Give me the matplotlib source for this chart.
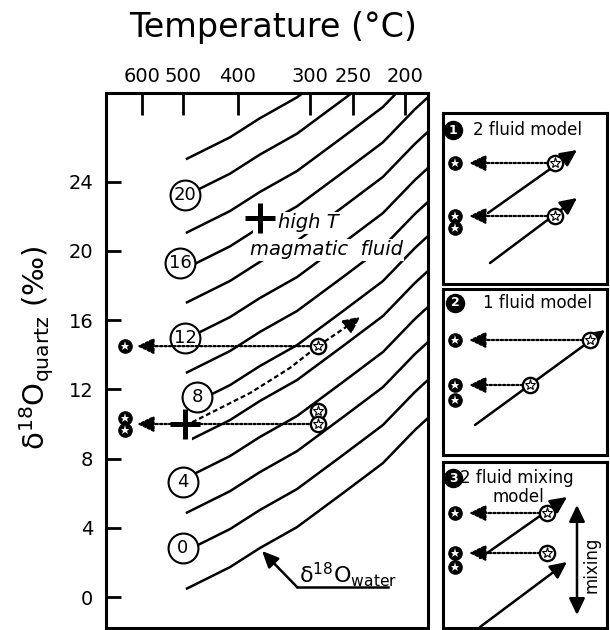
import matplotlib
matplotlib.use('Agg')
import matplotlib.pyplot as plt
import numpy as np

# ---------------- data ----------------
temp_labels = ['600', '500', '400', '300', '250', '200']
temp_pos = [1.145, 1.296, 1.499, 1.764, 1.923, 2.114]      # position on 1000/T-like axis
q_ticks = [0, 4, 8, 12, 16, 20, 24]

water_values = [-2, 0, 2, 4, 6, 8, 10, 12, 14, 16, 18, 20, 22]
curve_start_q = [0.46, 2.66, 4.85, 6.88, 8.96, 10.98, 12.95, 14.91, 17.0, 19.0, 21.04, 23.2, 25.3]
profile_x = [1.307, 1.470, 1.580, 1.717, 1.887, 2.034, 2.152, 2.200, 2.250]
profile_rise = [0.0, 1.27, 2.37, 3.58, 5.55, 7.28, 9.19, 9.88, 10.6]

label_text = ['20', '16', '12', '8', '4', '0']
label_x = [1.304, 1.285, 1.304, 1.348, 1.296, 1.296]
label_y = [23.24, 19.31, 14.97, 11.56, 6.65, 2.83]

sample_left_x = 1.082
sample_left_y = [14.5, 10.35, 9.65]
sample_right_x = 1.794
sample_right_y = [14.5, 10.75, 10.0]
arrow_tip_x = 1.127
arrow_y = [14.5, 10.0]

path_x = [1.330, 1.544, 1.691, 1.794, 1.920]
path_y = [10.10, 11.79, 13.24, 14.5, 15.84]
path_tip = (1.950, 16.20)

cross_x = [1.304, 1.580]
cross_y = [10.0, 21.9]

water_line_x = [2.053, 1.717]
water_line_y = [0.58, 0.58]
water_arrow_tip = (1.588, 2.66)

# inset schematic geometry (pixels inside each box)
box_rects = [(443, 113, 164, 171), (443, 289, 164, 166), (443, 462, 164, 166)]
box_num = [(10, 17), (12, 14), (10, 16)]
box_title = ['2 fluid model', '1 fluid model', '2 fluid mixing']
box_title_x = [30, 40, 17]
box_left_stars = [[(12, 50), (12, 103), (12, 115)],
                  [(12, 51), (12, 96), (12, 111)],
                  [(12, 51), (12, 91), (12, 105)]]
box_open_stars = [[(112, 50), (112, 103)],
                  [(147, 51), (87, 96)],
                  [(104, 51), (104, 91)]]
box_dotted = [[(104, 50, 26, 50), (104, 103, 26, 103)],
              [(140, 51, 26, 51), (80, 96, 26, 96)],
              [(97, 51, 26, 51), (97, 91, 26, 91)]]
box_solid = [[(45, 100, 134, 37), (47, 150, 134, 85)],
             [(32, 136, 162, 41)],
             [(37, 96, 124, 35), (37, 165, 124, 100)]]

FW, FH = 610, 630
fig = plt.figure(figsize=(6.1, 6.3), dpi=100)

# ---------------- main axes ----------------
ax = fig.add_axes([106 / FW, 1 - 628 / FH, 322 / FW, 535 / FH])
ax.set_xlim(1.0122, 2.2004)
ax.set_ylim(-1.79, 29.13)
for s in ax.spines.values():
    s.set_linewidth(2.2)

ax.xaxis.tick_top()
ax.set_xticks(temp_pos, temp_labels)
ax.tick_params(axis='x', direction='in', length=16, width=2, labelsize=14, pad=5,
               top=True, bottom=False)
ax.set_yticks(q_ticks)
ax.tick_params(axis='y', direction='in', length=11, width=2, labelsize=14, pad=9,
               left=True, right=False)

rise = np.array(profile_rise)
for w, s in zip(water_values, curve_start_q):
    ax.plot(profile_x, s + rise, color='black', lw=1.8, zorder=2, solid_capstyle='butt')

# text over curves
bb = dict(fc='white', ec='none', pad=1.0)
ax.text(1.647, 21.62, 'high T', fontsize=14, style='italic', ha='left', va='center',
        bbox=bb, zorder=3)
ax.text(1.543, 20.06, 'magmatic  fluid', fontsize=14, style='italic', ha='left',
        va='center', bbox=bb, zorder=3)

# crosses
ax.plot(cross_x, cross_y, '+', ms=27, mew=10, color='white', zorder=3)
ax.plot(cross_x, cross_y, '+', ms=21, mew=3.6, color='black', zorder=6)

# water labels
ax.plot(label_x, label_y, 'o', ms=21.5, mfc='white', mec='black', mew=1.5, zorder=4)
for t, x, y in zip(label_text, label_x, label_y):
    ax.text(x, y, t, fontsize=13, ha='center', va='center', zorder=5)

# arrows and samples
head = '-|>,head_length=0.5,head_width=0.24'
dot = (0, (1, 1))
for y in arrow_y:
    ax.annotate('', xy=(arrow_tip_x, y), xytext=(sample_right_x, y),
                arrowprops=dict(arrowstyle=head, lw=1.6, linestyle=dot, color='black',
                                shrinkA=0, shrinkB=0, mutation_scale=20), zorder=4)
ax.plot(path_x, path_y, color='black', lw=1.6, linestyle=(0, (2.2, 1.3)), zorder=4)
ax.annotate('', xy=path_tip, xytext=(path_x[-1], path_y[-1]),
            arrowprops=dict(arrowstyle=head, lw=1.6, linestyle=(0, (2.2, 1.3)), color='black',
                            shrinkA=0, shrinkB=0, mutation_scale=20), zorder=4)


def filled_star(a, xs, ys):
    a.plot(xs, ys, 'o', ms=9.5, color='black', zorder=7, linestyle='none')
    a.plot(xs, ys, '*', ms=6.5, color='white', zorder=8, linestyle='none', mew=0)


def open_star(a, xs, ys):
    a.plot(xs, ys, 'o', ms=11, mfc='white', mec='black', mew=1.7, zorder=7, linestyle='none')
    a.plot(xs, ys, '*', ms=8, mfc='white', mec='black', mew=0.8, zorder=8, linestyle='none')


filled_star(ax, [sample_left_x] * len(sample_left_y), sample_left_y)
open_star(ax, [sample_right_x] * len(sample_right_y), sample_right_y)

# delta18O water annotation
ax.plot(water_line_x, water_line_y, color='black', lw=1.8, zorder=4)
ax.annotate('', xy=water_arrow_tip, xytext=(water_line_x[1], water_line_y[1]),
            arrowprops=dict(arrowstyle='-|>,head_length=0.55,head_width=0.25', lw=1.8,
                            color='black', shrinkA=0, shrinkB=0, mutation_scale=18), zorder=4)
ax.text(1.725, 0.82, 'δ$^{18}$O$_{\\mathrm{water}}$', fontsize=16, ha='left', va='baseline',
        zorder=5)

# titles
fig.text(273 / FW, 1 - 28 / FH, 'Temperature (°C)', fontsize=24, ha='center', va='center')
fig.text(37 / FW, 1 - 348 / FH, 'δ$^{18}$O$_{\\mathrm{quartz}}$ (‰)', fontsize=21,
         rotation=90, ha='center', va='center')

# ---------------- insets ----------------
for i, (x0, y0, w, h) in enumerate(box_rects):
    a = fig.add_axes([x0 / FW, 1 - (y0 + h) / FH, w / FW, h / FH])
    a.set_xlim(0, w)
    a.set_ylim(h, 0)
    a.set_xticks([])
    a.set_yticks([])
    for s in a.spines.values():
        s.set_linewidth(2.2)
    nx, ny = box_num[i]
    a.plot(nx, ny, 'o', ms=13, color='black')
    a.text(nx, ny, str(i + 1), color='white', fontsize=9, fontweight='bold',
           ha='center', va='center')
    a.text(box_title_x[i], ny, box_title[i], fontsize=12, ha='left', va='center')
    for (xa, ya, xb, yb) in box_dotted[i]:
        a.annotate('', xy=(xb, yb), xytext=(xa, ya),
                   arrowprops=dict(arrowstyle=head, lw=1.6, linestyle=dot, color='black',
                                   shrinkA=0, shrinkB=0, mutation_scale=20), zorder=4)
    for (xa, ya, xb, yb) in box_solid[i]:
        a.annotate('', xy=(xb, yb), xytext=(xa, ya),
                   arrowprops=dict(arrowstyle=head, lw=1.8, color='black',
                                   shrinkA=0, shrinkB=0, mutation_scale=20), zorder=4)
    filled_star(a, [p[0] for p in box_left_stars[i]], [p[1] for p in box_left_stars[i]])
    open_star(a, [p[0] for p in box_open_stars[i]], [p[1] for p in box_open_stars[i]])
    if i == 2:
        a.text(75, 35, 'model', fontsize=12, ha='center', va='center')
        a.annotate('', xy=(134, 43), xytext=(134, 153),
                   arrowprops=dict(arrowstyle='<|-|>,head_length=0.5,head_width=0.24', lw=1.8,
                                   color='black', shrinkA=0, shrinkB=0, mutation_scale=20))
        a.text(149, 103, 'mixing', fontsize=12, rotation=90, ha='center', va='center')

fig.savefig('out.png', dpi=100)
